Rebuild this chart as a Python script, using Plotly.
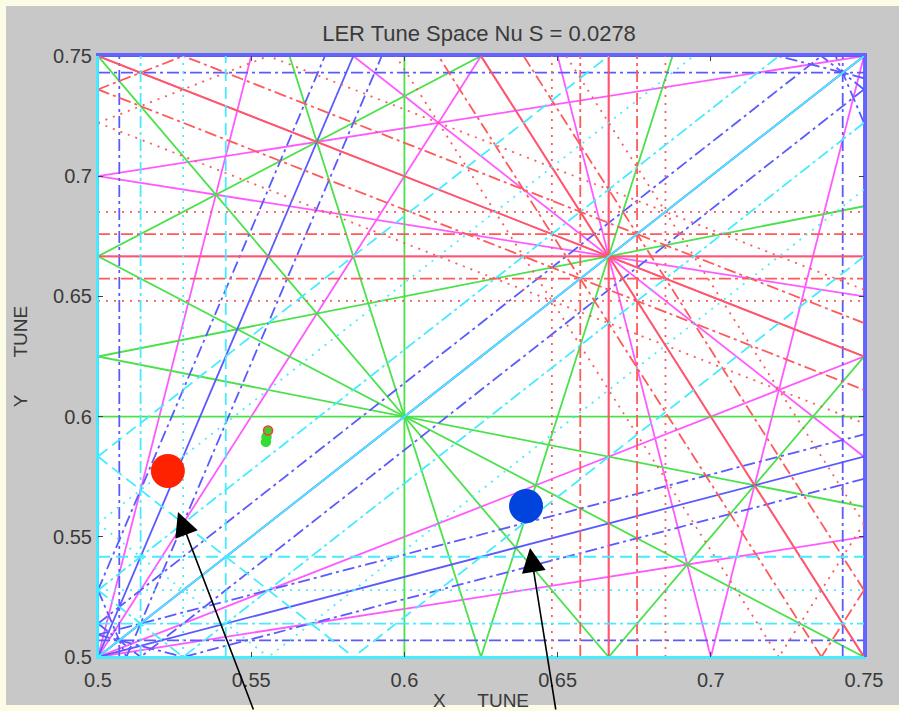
import math
import plotly.graph_objects as go

# ---------------- data ----------------
nu_s = 0.0278                      # synchrotron tune
x_range = [0.5, 0.75]
y_range = [0.5, 0.75]
res_orders = [6, 5, 4, 3, 2]       # drawn high order first, low order on top
sideband_max = {2: 3, 3: 2, 4: 1, 5: 0, 6: 0}
order_colors = {2: "rgb(70,235,255)", 3: "rgb(255,90,90)", 4: "rgb(90,90,255)",
                5: "rgb(75,225,75)", 6: "rgb(255,90,255)"}
sideband_dash = {0: "solid", 1: "12px,4px,3px,4px", 2: "2px,6px", 3: "12px,6px"}

# working points
big_x = [0.5228, 0.6397]
big_y = [0.5774, 0.5628]
big_colors = ["#ff2200", "#0044dd"]
small_x = [0.5550, 0.5548, 0.5555]
small_y = [0.5915, 0.5895, 0.5942]
small_fill = ["#33dd33", "#33dd33", "#44cc33"]
small_edge = ["#33dd33", "#33dd33", "#ff3333"]

# arrows: tip (data), tail offset (px)
arrow_tip_x = [0.5261, 0.6410]
arrow_tip_y = [0.5603, 0.5453]
arrow_ax = [76, 26]
arrow_ay = [203, 167]

tick_vals = [0.5, 0.55, 0.6, 0.65, 0.7, 0.75]
tick_text = ["0.5", "0.55", "0.6", "0.65", "0.7", "0.75"]
title_text = "LER Tune Space Nu S = 0.0278"


def clip_line(a, b, k):
    x0, x1 = x_range
    y0, y1 = y_range
    eps = 1e-9
    pts = []
    if b != 0:
        for x in (x0, x1):
            y = (k - a * x) / b
            if y0 - eps <= y <= y1 + eps:
                pts.append((x, y))
    if a != 0:
        for y in (y0, y1):
            x = (k - b * y) / a
            if x0 - eps <= x <= x1 + eps:
                pts.append((x, y))
    uniq = []
    for p in pts:
        if all(abs(p[0] - q[0]) > 1e-7 or abs(p[1] - q[1]) > 1e-7 for q in uniq):
            uniq.append(p)
    if len(uniq) < 2:
        return None
    best = None
    bd = -1
    for i in range(len(uniq)):
        for j in range(i + 1, len(uniq)):
            d = (uniq[i][0] - uniq[j][0]) ** 2 + (uniq[i][1] - uniq[j][1]) ** 2
            if d > bd:
                bd = d
                best = (uniq[i], uniq[j])
    return best


fig = go.Figure()

for order in res_orders:
    cmax = sideband_max[order]
    for cabs in range(cmax, -1, -1):
        xs, ys = [], []
        for a in range(0, order + 1):
            for b in range(-order, order + 1):
                if abs(a) + abs(b) != order:
                    continue
                if a == 0 and b <= 0:
                    continue
                vals = [a * x + b * y for x in x_range for y in y_range]
                lo, hi = min(vals), max(vals)
                cs = [0] if cabs == 0 else [cabs, -cabs]
                for c in cs:
                    for n in range(math.floor(lo) - 2, math.ceil(hi) + 3):
                        k = n - c * nu_s
                        if k < lo - 1e-9 or k > hi + 1e-9:
                            continue
                        seg = clip_line(a, b, k)
                        if seg is None:
                            continue
                        xs += [seg[0][0], seg[1][0], None]
                        ys += [seg[0][1], seg[1][1], None]
        if xs:
            fig.add_trace(go.Scatter(
                x=xs, y=ys, mode="lines", hoverinfo="skip", showlegend=False,
                line=dict(color=order_colors[order], width=1.8,
                          dash=sideband_dash[cabs])))

fig.add_trace(go.Scatter(x=small_x, y=small_y, mode="markers", showlegend=False,
                         marker=dict(size=9, color=small_fill,
                                     line=dict(color=small_edge, width=1.5))))
fig.add_trace(go.Scatter(x=big_x, y=big_y, mode="markers", showlegend=False,
                         marker=dict(size=34, color=big_colors, line=dict(width=0))))
# empty trace to carry the top/right frame axes
fig.add_trace(go.Scatter(x=[], y=[], xaxis="x2", yaxis="y2", showlegend=False,
                         hoverinfo="skip"))

for tx, ty, ax, ay in zip(arrow_tip_x, arrow_tip_y, arrow_ax, arrow_ay):
    fig.add_annotation(x=tx, y=ty, xref="x", yref="y", ax=ax, ay=ay,
                       axref="pixel", ayref="pixel", text="", showarrow=True,
                       arrowhead=2, arrowsize=3.0, arrowwidth=1.6,
                       arrowcolor="black", standoff=0)

font_family = "Liberation Sans, Arial, Helvetica, sans-serif"
txt_col = "#3a3a3a"
axis_common = dict(tickvals=tick_vals, ticktext=tick_text, automargin=False,
                   showgrid=False, zeroline=False, showline=True,
                   linecolor="rgb(70,235,255)", linewidth=2,
                   ticks="inside", ticklen=5, tickcolor="#444", mirror="ticks",
                   tickfont=dict(family=font_family, size=20, color=txt_col))
frame_common = dict(showgrid=False, zeroline=False, showline=True, automargin=False,
                    linecolor="rgb(100,100,255)", linewidth=2.5,
                    showticklabels=False, ticks="")

fig.update_layout(
    width=899, height=711, autosize=False,
    margin=dict(l=98, r=35, t=56, b=54, autoexpand=False),
    paper_bgcolor="#c8c8c8", plot_bgcolor="white",
    title=dict(text=title_text, x=479 / 899, xanchor="center", xref="container",
               y=1 - 33 / 711, yanchor="middle", yref="container",
               font=dict(family=font_family, size=22, color=txt_col)),
    xaxis=dict(axis_common, range=x_range, ticklabelstandoff=4,
               title=dict(text="X\u00a0\u00a0\u00a0\u00a0\u00a0\u00a0TUNE",
                          font=dict(family=font_family, size=19, color=txt_col),
                          standoff=4)),
    yaxis=dict(axis_common, range=y_range,
               title=dict(text="Y\u00a0\u00a0\u00a0\u00a0\u00a0\u00a0\u00a0TUNE",
                          font=dict(family=font_family, size=19, color=txt_col),
                          standoff=20)),
    xaxis2=dict(frame_common, range=x_range, overlaying="x", side="top",
                anchor="y2"),
    yaxis2=dict(frame_common, range=y_range, overlaying="y", side="right",
                anchor="x2"),
    shapes=[dict(type="rect", xref="paper", yref="paper",
                 x0=(0 - 98) / 766, x1=(910 - 98) / 766,
                 y0=(657 - 711) / 601, y1=(657 - 0) / 601,
                 line=dict(color="#fbfbe6", width=12), fillcolor="rgba(0,0,0,0)",
                 layer="above")],
)

fig.write_html("out.html")
